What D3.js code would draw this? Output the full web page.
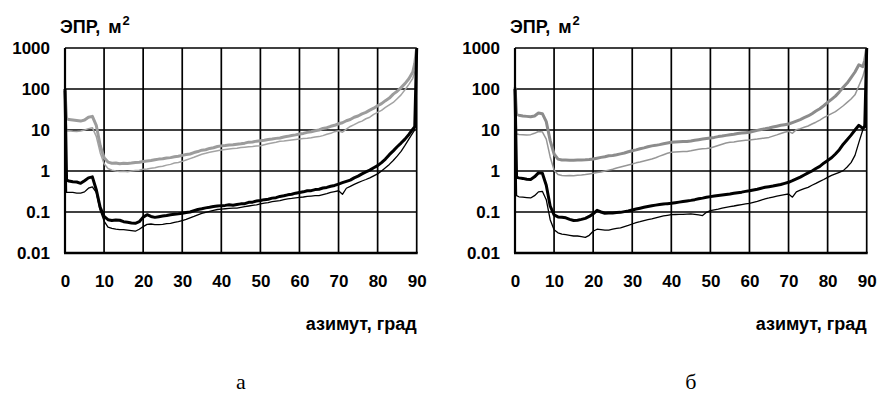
<!DOCTYPE html>
<html>
<head>
<meta charset="utf-8">
<script src="https://cdn.jsdelivr.net/npm/d3@7"></script>
<style>
  body { margin: 0; background: #ffffff; }
  svg { display: block; }
</style>
</head>
<body>
<svg id="chart" width="879" height="395"></svg>
<script>
// azimuth, degrees (shared by all curves)
const AZIMUTH = [
  0, 0.4,
  1, 2, 3, 4, 5, 6, 7, 8, 9, 10,
  11, 12, 13, 14, 15, 16, 17, 18, 19, 20,
  21, 22, 23, 24, 25, 26, 27, 28, 29, 30,
  31, 32, 33, 34, 35, 36, 37, 38, 39, 40,
  41, 42, 43, 44, 45, 46, 47, 48, 49, 50,
  51, 52, 53, 54, 55, 56, 57, 58, 59, 60,
  61, 62, 63, 64, 65, 66, 67, 68, 69, 70,
  71, 72, 73, 74, 75, 76, 77, 78, 79, 80,
  81, 82, 83, 84, 85, 86, 87, 88, 89,
  89.5, 90
];

const X_TICKS = [0, 10, 20, 30, 40, 50, 60, 70, 80, 90];
const Y_TICKS = [0.01, 0.1, 1, 10, 100, 1000];

// panel "а" — RCS, m^2
const A_GRAY_THICK = [
  90, 19,
  18, 17.5, 17, 16.5, 17.5, 20.5, 21.5, 13, 4.2, 2.1,
  1.65, 1.55, 1.57, 1.5, 1.55, 1.52, 1.56, 1.62, 1.64, 1.7,
  1.76, 1.8, 1.88, 1.95, 1.98, 2.08, 2.12, 2.22, 2.28, 2.4,
  2.52, 2.6, 2.82, 2.98, 3.22, 3.3, 3.55, 3.7, 3.95, 4.1,
  4.18, 4.32, 4.36, 4.5, 4.62, 4.78, 5.05, 5.1, 5.35, 5.5,
  5.6, 5.85, 6.0, 6.25, 6.4, 6.75, 7.0, 7.35, 7.6, 8.0,
  8.25, 8.75, 9.1, 9.6, 10, 10.9, 11.4, 12.3, 13, 14.2,
  15, 16.8, 18, 20.5, 22, 24.8, 27, 30.5, 34, 39,
  44, 52, 60, 75, 88, 108, 135, 178, 260,
  420, 1000
];
const A_GRAY_THIN = [
  90, 9.5,
  9.6, 9.3, 9.2, 9.5, 10, 10.8, 11.4, 7, 2.8, 1.5,
  1.15, 1.05, 1.0, 0.97, 0.99, 0.96, 1.0, 1.03, 1.05, 1.1,
  1.12, 1.16, 1.2, 1.27, 1.3, 1.39, 1.45, 1.56, 1.62, 1.72,
  1.86, 2.0, 2.16, 2.35, 2.56, 2.7, 2.87, 3.0, 3.12, 3.25,
  3.36, 3.45, 3.52, 3.6, 3.72, 3.8, 3.88, 3.95, 4.08, 4.15,
  4.38, 4.6, 4.82, 5.0, 5.3, 5.38, 5.55, 5.7, 5.88, 6.0,
  6.2, 6.32, 6.5, 6.72, 6.9, 7.3, 7.85, 8.3, 9.1, 9.6,
  8.8, 10.5, 12.2, 13.5, 15.2, 16.5, 18.8, 20.5, 24, 27,
  30, 35.5, 41, 47, 58, 72, 96, 130, 182,
  260, 320
];
const A_BLACK_THICK = [
  100, 0.6,
  0.57, 0.55, 0.54, 0.5, 0.58, 0.68, 0.72, 0.35, 0.13, 0.078,
  0.065, 0.062, 0.064, 0.063, 0.058, 0.056, 0.054, 0.053, 0.058, 0.075,
  0.086, 0.078, 0.074, 0.077, 0.08, 0.082, 0.086, 0.088, 0.09, 0.093,
  0.097, 0.1, 0.107, 0.115, 0.12, 0.126, 0.13, 0.136, 0.14, 0.143,
  0.145, 0.15, 0.146, 0.152, 0.158, 0.16, 0.172, 0.174, 0.185, 0.19,
  0.2, 0.205, 0.218, 0.224, 0.24, 0.248, 0.262, 0.27, 0.288, 0.3,
  0.31, 0.33, 0.332, 0.352, 0.36, 0.385, 0.398, 0.425, 0.445, 0.48,
  0.52, 0.56, 0.6, 0.68, 0.75, 0.85, 0.95, 1.05, 1.2, 1.35,
  1.6, 1.95, 2.5, 3.1, 3.9, 4.8, 6, 7.8, 10.5,
  12, 1000
];
const A_BLACK_THIN = [
  100, 0.3,
  0.3, 0.3, 0.29, 0.29, 0.31, 0.38, 0.41, 0.3, 0.11, 0.06,
  0.043, 0.04, 0.038, 0.037, 0.037, 0.036, 0.035, 0.034, 0.038, 0.044,
  0.05, 0.051, 0.049, 0.049, 0.05, 0.052, 0.053, 0.056, 0.058, 0.062,
  0.066, 0.072, 0.078, 0.085, 0.092, 0.098, 0.104, 0.11, 0.115, 0.118,
  0.12, 0.122, 0.124, 0.125, 0.13, 0.135, 0.14, 0.145, 0.15, 0.157,
  0.165, 0.17, 0.178, 0.185, 0.19, 0.2, 0.21, 0.215, 0.222, 0.228,
  0.232, 0.24, 0.245, 0.25, 0.25, 0.265, 0.28, 0.3, 0.315, 0.33,
  0.27, 0.38, 0.42, 0.47, 0.52, 0.57, 0.62, 0.68, 0.76, 0.85,
  1.0, 1.2, 1.45, 1.8, 2.3, 3.0, 4.2, 6.0, 8.5,
  10, 1000
];

// panel "б" — RCS, m^2
const B_GRAY_THICK = [
  110, 24,
  23, 22, 21.5, 21, 22, 26, 25, 16, 5.5, 2.6,
  1.95, 1.85, 1.86, 1.84, 1.83, 1.85, 1.86, 1.87, 1.9, 1.96,
  2.05, 2.15, 2.22, 2.35, 2.4, 2.5, 2.62, 2.75, 2.95, 3.13,
  3.28, 3.5, 3.66, 3.9, 4.1, 4.22, 4.4, 4.62, 4.8, 5.0,
  5.1, 5.15, 5.22, 5.25, 5.4, 5.62, 5.8, 6.0, 6.2, 6.4,
  6.6, 6.9, 7.1, 7.4, 7.7, 7.9, 8.2, 8.4, 8.6, 8.8,
  9.3, 9.8, 10.3, 10.7, 11.2, 11.8, 12.4, 13, 13.5, 14,
  15.2, 16.5, 18, 20, 22, 25, 29, 33, 39, 47,
  56, 67, 85, 110, 140, 190, 260, 390, 350,
  500, 1000
];
const B_GRAY_THIN = [
  110, 8,
  7.8, 7.7, 7.6, 7.7, 8.3, 9.2, 9.0, 6.0, 2.2, 1.05,
  0.82, 0.78, 0.77, 0.78, 0.77, 0.79, 0.8, 0.82, 0.85, 0.88,
  0.92, 0.95, 1.0, 1.05, 1.1, 1.18, 1.25, 1.33, 1.4, 1.48,
  1.58, 1.65, 1.75, 1.85, 1.96, 2.1, 2.3, 2.5, 2.7, 2.85,
  2.9, 2.95, 2.97, 3.0, 3.1, 3.25, 3.4, 3.5, 3.55, 3.64,
  3.9, 4.2, 4.5, 4.8, 5.0, 5.1, 5.3, 5.45, 5.6, 5.7,
  5.85, 6.0, 6.2, 6.4, 6.6, 7.1, 7.6, 8.2, 8.8, 9.3,
  8.3, 10.2, 10.8, 11.7, 12.5, 14, 15.5, 17.5, 20, 22.4,
  25, 28, 33, 39, 47, 57, 72, 120, 200,
  300, 500
];
const B_BLACK_THICK = [
  100, 0.7,
  0.68, 0.66, 0.63, 0.62, 0.72, 0.9, 0.88, 0.45, 0.14, 0.085,
  0.076, 0.074, 0.072, 0.066, 0.062, 0.063, 0.066, 0.07, 0.078, 0.09,
  0.11, 0.1, 0.093, 0.094, 0.095, 0.097, 0.098, 0.102, 0.106, 0.112,
  0.118, 0.124, 0.13, 0.136, 0.142, 0.147, 0.152, 0.156, 0.16, 0.163,
  0.168, 0.174, 0.18, 0.186, 0.192, 0.2, 0.21, 0.218, 0.228, 0.237,
  0.245, 0.252, 0.26, 0.268, 0.275, 0.285, 0.295, 0.305, 0.318, 0.33,
  0.345, 0.36, 0.38, 0.4, 0.415, 0.43, 0.45, 0.47, 0.5, 0.53,
  0.58, 0.64, 0.71, 0.8, 0.9, 1.0, 1.15, 1.3, 1.55, 1.8,
  2.1, 2.6, 3.3, 4.5, 5.8, 7.5, 10, 13, 11,
  12, 1000
];
const B_BLACK_THIN = [
  100, 0.25,
  0.235, 0.23, 0.225, 0.22, 0.25, 0.31, 0.32, 0.2, 0.065, 0.037,
  0.031, 0.029, 0.028, 0.027, 0.026, 0.026, 0.025, 0.024, 0.027, 0.034,
  0.038, 0.037, 0.036, 0.036, 0.038, 0.04, 0.041, 0.044, 0.047, 0.051,
  0.055, 0.058, 0.062, 0.065, 0.068, 0.072, 0.076, 0.08, 0.083, 0.086,
  0.087, 0.088, 0.088, 0.089, 0.09, 0.088, 0.085, 0.082, 0.098, 0.108,
  0.113, 0.118, 0.124, 0.13, 0.135, 0.14, 0.146, 0.152, 0.158, 0.163,
  0.172, 0.182, 0.195, 0.21, 0.22, 0.232, 0.245, 0.255, 0.265, 0.275,
  0.23, 0.31, 0.34, 0.37, 0.4, 0.45, 0.5, 0.56, 0.62, 0.7,
  0.78, 0.85, 0.93, 1.02, 1.25, 1.6, 2.4, 5, 10,
  14, 1000
];

const Y_TITLE = ["ЭПР,", "м", "2"];
const X_TITLE = "азимут, град";

const W = 879, H = 395;
const plotW = 351.7, plotH = 205, plotTop = 48;
const labelFont = "'Liberation Sans', Arial, Helvetica, sans-serif";

const panels = [
  {
    left: 65, caption: "а",
    series: [
      { values: A_GRAY_THIN, color: "#a3a3a3", width: 1.5 },
      { values: A_GRAY_THICK, color: "#9c9c9c", width: 3 },
      { values: A_BLACK_THIN, color: "#000000", width: 1.3 },
      { values: A_BLACK_THICK, color: "#000000", width: 3 },
    ],
  },
  {
    left: 515, caption: "б",
    series: [
      { values: B_GRAY_THIN, color: "#969696", width: 1.5 },
      { values: B_GRAY_THICK, color: "#8c8c8c", width: 3 },
      { values: B_BLACK_THIN, color: "#000000", width: 1.3 },
      { values: B_BLACK_THICK, color: "#000000", width: 3 },
    ],
  },
];

const svg = d3.select("#chart").attr("viewBox", `0 0 ${W} ${H}`);
svg.append("rect").attr("width", W).attr("height", H).attr("fill", "#ffffff");

const x = d3.scaleLinear().domain([0, 90]).range([0, plotW]);
const y = d3.scaleLog().domain([0.01, 1000]).range([plotH, 0]);

panels.forEach((p) => {
  const g = svg.append("g").attr("transform", `translate(${p.left},${plotTop})`);

  // grid
  g.append("g")
    .selectAll("line.vgrid")
    .data(X_TICKS)
    .join("line")
    .attr("class", "vgrid")
    .attr("x1", (d) => x(d)).attr("x2", (d) => x(d))
    .attr("y1", 0).attr("y2", plotH)
    .attr("stroke", "#000").attr("stroke-width", 1.7);
  g.append("g")
    .selectAll("line.hgrid")
    .data(Y_TICKS)
    .join("line")
    .attr("class", "hgrid")
    .attr("x1", 0).attr("x2", plotW)
    .attr("y1", (d) => y(d)).attr("y2", (d) => y(d))
    .attr("stroke", "#000").attr("stroke-width", 1.7);

  // curves
  const line = d3.line()
    .x((d) => x(d[0]))
    .y((d) => y(d[1]));
  g.append("g")
    .selectAll("path.curve")
    .data(p.series)
    .join("path")
    .attr("class", "curve")
    .attr("d", (s) => line(AZIMUTH.map((a, i) => [a, s.values[i]])))
    .attr("fill", "none")
    .attr("stroke", (s) => s.color)
    .attr("stroke-width", (s) => s.width)
    .attr("stroke-linejoin", "round");

  // frame: left and bottom axis lines a bit heavier
  g.append("line").attr("x1", 0).attr("x2", 0).attr("y1", 0).attr("y2", plotH)
    .attr("stroke", "#000").attr("stroke-width", 2.2);
  g.append("line").attr("x1", -1).attr("x2", plotW + 1).attr("y1", plotH).attr("y2", plotH)
    .attr("stroke", "#000").attr("stroke-width", 2.6);

  // tick labels
  const gx = g.append("g").attr("transform", `translate(0,${plotH})`)
    .call(d3.axisBottom(x).tickValues(X_TICKS).tickSize(0).tickPadding(22).tickFormat(d3.format("d")));
  const gy = g.append("g")
    .call(d3.axisLeft(y).tickValues(Y_TICKS).tickSize(0).tickPadding(15).tickFormat((d) => String(d)));
  [gx, gy].forEach((ax) => {
    ax.select(".domain").remove();
    ax.selectAll("text")
      .attr("fill", "#000")
      .style("font-family", labelFont)
      .style("font-size", "17px")
      .style("font-weight", "bold");
  });

  // axis titles
  const yt = g.append("text")
    .attr("x", -5).attr("y", 33 - plotTop)
    .attr("fill", "#000")
    .style("font-family", labelFont)
    .style("font-size", "18px")
    .style("font-weight", "bold")
    .text(Y_TITLE[0]);
  yt.append("tspan").attr("dx", 8).text(Y_TITLE[1]);
  yt.append("tspan").attr("dy", -8).attr("dx", 1).style("font-size", "13px").text(Y_TITLE[2]);

  g.append("text")
    .attr("x", plotW).attr("y", 330 - plotTop)
    .attr("text-anchor", "end")
    .attr("fill", "#000")
    .style("font-family", labelFont)
    .style("font-size", "18px")
    .style("font-weight", "bold")
    .text(X_TITLE);

  // panel caption
  g.append("text")
    .attr("x", plotW / 2).attr("y", 389 - plotTop)
    .attr("text-anchor", "middle")
    .attr("fill", "#000")
    .style("font-family", "'Liberation Serif', 'Times New Roman', serif")
    .style("font-size", "22px")
    .text(p.caption);
});
</script>
</body>
</html>
